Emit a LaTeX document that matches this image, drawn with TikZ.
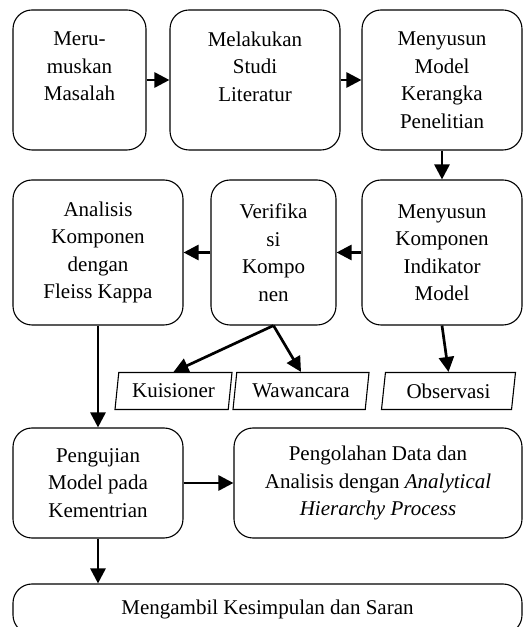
\documentclass[tikz,border=0pt]{standalone}
\usepackage{fontspec}
\setmainfont{Liberation Serif}
\usetikzlibrary{arrows.meta,positioning,shapes.geometric}

\begin{document}
\begin{tikzpicture}[x=1pt,y=1pt]

\tikzset{
  blk/.style   = {draw, line width=1.1pt, rounded corners=19pt, align=center,
                  inner sep=0pt, font=\fontsize{21}{27.5}\selectfont},
  para/.style  = {draw, line width=1.1pt, trapezium, trapezium left angle=75,
                  trapezium right angle=105, trapezium stretches body,
                  inner sep=0pt, minimum height=37pt,
                  font=\fontsize{21}{25}\selectfont},
  flow/.style  = {-{Triangle[length=15pt,width=15pt]}, line width=2.7pt},
}

\useasboundingbox (0,0) rectangle (524,627);

% top row
\node[blk, minimum width=133pt, minimum height=140pt] (masalah) at (79.5,547) {Meru-\\muskan\\Masalah\\\mbox{}};
\node[blk, minimum width=170pt, minimum height=140pt] (studi) at (255,547) {Melakukan\\Studi\\Literatur\\\mbox{}};
\node[blk, minimum width=160pt, minimum height=140pt] (kerangka) at (442,547) {Menyusun\\Model\\Kerangka\\Penelitian};
% second row
\node[blk, minimum width=170pt, minimum height=145pt] (analisis) at (98,374.5) {Analisis\\Komponen\\dengan\\Fleiss Kappa};
\node[blk, minimum width=125pt, minimum height=145pt] (verif) at (273.5,374.5) {Verifika\\si\\Kompo\\nen};
\node[blk, minimum width=160pt, minimum height=145pt] (komponen) at (442,374.5) {Menyusun\\Komponen\\Indikator\\Model};
% data sources
\node[para, minimum width=117pt] (kuis) at (173.5,236) {Kuisioner};
\node[para, minimum width=136pt] (wawan) at (301,236) {Wawancara};
\node[para, minimum width=134pt] (obs) at (448.5,236) {Observasi};
% bottom
\node[blk, minimum width=170pt, minimum height=110pt] (uji) at (98,144) {Pengujian\\Model pada\\Kementrian};
\node[blk, minimum width=288pt, minimum height=110pt] (olah) at (378,144) {Pengolahan Data dan\\Analisis dengan \textit{Analytical}\\\textit{Hierarchy Process}};
\node[blk, minimum width=509pt, minimum height=50pt] (simpul) at (267.5,18) {Mengambil Kesimpulan dan Saran};

\draw[flow] (masalah.east) -- (studi.west);
\draw[flow] (studi.east) -- (kerangka.west);
\draw[flow] (kerangka.south) -- (komponen.north);
\draw[flow] (komponen.west) -- (verif.east);
\draw[flow] (verif.west) -- (analisis.east);
\draw[flow] (verif.south) -- (kuis.north);
\draw[flow] (verif.south) -- (wawan.north);
\draw[flow] (komponen.south) -- (obs.north);
\draw[flow] (analisis.south) -- (uji.north);
\draw[flow] (uji.east) -- (olah.west);
\draw[flow] (uji.south) -- (uji.south |- simpul.north);
\end{tikzpicture}
\end{document}
